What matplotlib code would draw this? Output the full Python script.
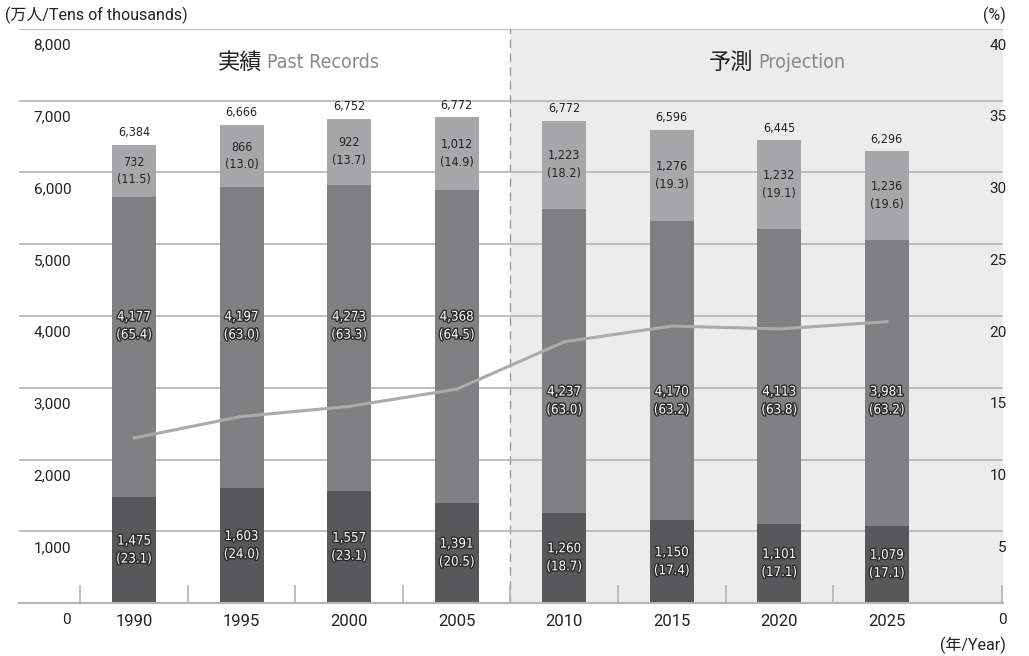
import numpy as np
import matplotlib
matplotlib.use("Agg")
import matplotlib.pyplot as plt
import matplotlib.patheffects as pe

years = ["1990", "1995", "2000", "2005", "2010", "2015", "2020", "2025"]
young = [1475, 1603, 1557, 1391, 1260, 1150, 1101, 1079]
young_pct = [23.1, 24.0, 23.1, 20.5, 18.7, 17.4, 17.1, 17.1]
working = [4177, 4197, 4273, 4368, 4237, 4170, 4113, 3981]
working_pct = [65.4, 63.0, 63.3, 64.5, 63.0, 63.2, 63.8, 63.2]
elderly = [732, 866, 922, 1012, 1223, 1276, 1232, 1236]
elderly_pct = [11.5, 13.0, 13.7, 14.9, 18.2, 19.3, 19.1, 19.6]
totals = [6384, 6666, 6752, 6772, 6772, 6596, 6445, 6296]
left_ticks = [0, 1000, 2000, 3000, 4000, 5000, 6000, 7000, 8000]
right_ticks = [0, 5, 10, 15, 20, 25, 30, 35, 40]

NARROW = dict(family="DejaVu Sans", stretch="condensed")
SANS = ["Roboto", "Noto Sans CJK JP", "DejaVu Sans"]

fig = plt.figure(figsize=(10.29, 6.56), dpi=100)
ax = fig.add_axes([19 / 1029, 53 / 656, 984 / 1029, 574 / 656])
x = np.arange(len(years))
ax.set_xlim(-1.07, 8.08)
ax.set_ylim(0, 8000)

# 予測エリアと区切り線
ax.axvspan(3.5, 8.08, color="#ececec", zorder=0, lw=0)
ax.axvline(3.5, color="#9a9a9a", lw=1, ls=(0, (6, 4)), zorder=1)
for v in left_ticks[1:]:
    ax.axhline(v, color="#b4b4b4", lw=1.2, zorder=1)

w = 0.41
b1 = np.array(young)
b2 = b1 + np.array(working)
ax.bar(x, young, w, color="#58585a", zorder=2)
ax.bar(x, working, w, bottom=b1, color="#808083", zorder=2)
ax.bar(x, elderly, w, bottom=b2, color="#a7a7a9", zorder=2)
tops = b2 + np.array(elderly)

stroke = [pe.withStroke(linewidth=2, foreground="#2a2a2a")]
for i in range(len(years)):
    ax.annotate(f"{totals[i]:,}", (x[i], tops[i]), xytext=(0, 4), textcoords="offset points",
                ha="center", va="bottom", fontsize=9, color="#222222", zorder=5, **NARROW)
    ax.text(x[i], b2[i] + elderly[i] / 2, f"{elderly[i]:,}\n({elderly_pct[i]:.1f})", ha="center",
            va="center", fontsize=9, color="#222222", linespacing=1.45, zorder=5, **NARROW)
    mid_y = 3860 if i < 4 else 2815
    ax.text(x[i], mid_y, f"{working[i]:,}\n({working_pct[i]:.1f})", ha="center", va="center",
            fontsize=9.5, color="white", linespacing=1.5, zorder=5, path_effects=stroke, **NARROW)
    ax.text(x[i], young[i] / 2, f"{young[i]:,}\n({young_pct[i]:.1f})", ha="center", va="center",
            fontsize=9.5, color="white", linespacing=1.5, zorder=5, path_effects=stroke, **NARROW)

# 右軸 (%)
ax2 = ax.twinx()
ax2.set_ylim(0, 40)
ax2.plot(x, elderly_pct, color="#ababab", lw=2.2, zorder=6)
ax2.axis("off")

for s in ["top", "left", "right"]:
    ax.spines[s].set_visible(False)
ax.spines["bottom"].set_color("#b4b4b4")
ax.spines["bottom"].set_linewidth(1.5)
ax.set_yticks([])
ax.set_xticks(x)
ax.set_xticklabels(years, fontsize=12, family=SANS, color="#222222")
ax.tick_params(axis="x", length=0, pad=8)
ax.set_xticks([-0.5, 0.5, 1.5, 2.5, 3.5, 4.5, 5.5, 6.5, 8.07], minor=True)
ax.tick_params(axis="x", which="minor", direction="in", length=13, color="#b4b4b4", width=1.2)

for v in left_ticks:
    ax.annotate(f"{v:,}", (0.053, v), xycoords=("axes fraction", "data"), xytext=(0, -7),
                textcoords="offset points", ha="right", va="top", fontsize=11, family=SANS, color="#222222")
for v in right_ticks:
    ax2.annotate(f"{v}", (1.004, v), xycoords=("axes fraction", "data"), xytext=(0, -7),
                 textcoords="offset points", ha="right", va="top", fontsize=11, family=SANS, color="#222222")

fig.text(5 / 1029, 1 - 15 / 656, "(万人/Tens of thousands)", ha="left", va="center", fontsize=11.5,
         family=SANS, color="#222222")
fig.text(1006 / 1029, 1 - 15 / 656, "(%)", ha="right", va="center", fontsize=11.5, family=SANS,
         color="#222222")
fig.text(1006 / 1029, 1 - 645 / 656, "(年/Year)", ha="right", va="center", fontsize=11.5, family=SANS,
         color="#222222")

fig.text(262 / 1029, 1 - 62 / 656, "実績", ha="right", va="center", fontsize=16,
         family=["Noto Sans CJK JP"], color="#222222")
fig.text(267 / 1029, 1 - 63 / 656, "Past Records", ha="left", va="center", fontsize=14,
         color="#8a8a8a", **NARROW)
fig.text(753 / 1029, 1 - 62 / 656, "予測", ha="right", va="center", fontsize=16,
         family=["Noto Sans CJK JP"], color="#222222")
fig.text(758 / 1029, 1 - 63 / 656, "Projection", ha="left", va="center", fontsize=14,
         color="#8a8a8a", **NARROW)

fig.savefig("out.png", dpi=100)
